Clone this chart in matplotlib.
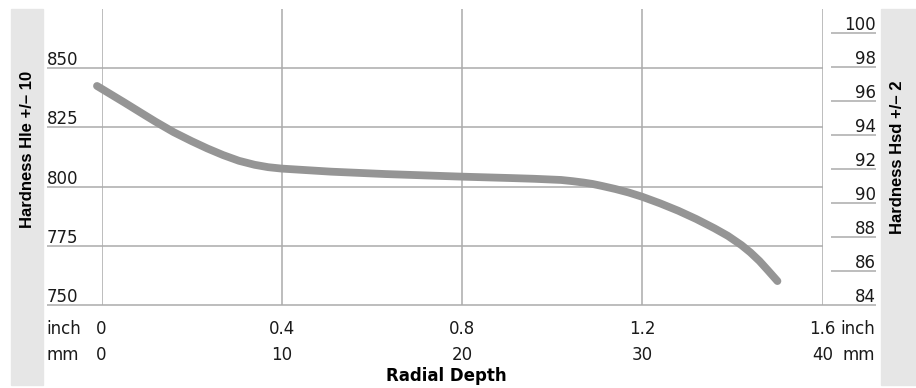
import matplotlib.pyplot as plt
from matplotlib.patches import Rectangle

W, H = 916, 388

# curve (depth in inch, hardness Hle)
depth_inch = [-0.01, 0.05, 0.09, 0.12, 0.16, 0.2, 0.235, 0.27, 0.305, 0.34, 0.37, 0.4,
              0.51, 0.63, 0.8, 0.91, 0.96, 1.02, 1.045, 1.07, 1.09, 1.11, 1.14, 1.17,
              1.2, 1.24, 1.28, 1.32, 1.36, 1.39, 1.42, 1.44, 1.46, 1.48, 1.5]
hardness_hle = [842.5, 835.6, 830.9, 827.4, 823.0, 819.2, 816.1, 813.3, 810.9, 809.2, 808.2, 807.6,
                806.3, 805.3, 804.2, 803.6, 803.3, 802.8, 802.3, 801.7, 801.1, 800.3, 799.0, 797.5,
                795.7, 792.9, 789.8, 786.3, 782.4, 779.2, 775.3, 772.2, 768.6, 764.4, 760.1]

inch_ticks = [0, 0.4, 0.8, 1.2, 1.6]
inch_labels = ['0', '0.4', '0.8', '1.2', '1.6']
mm_labels = ['0', '10', '20', '30', '40']
hle_ticks = [750, 775, 800, 825, 850]
hsd_ticks = [84, 86, 88, 90, 92, 94, 96, 98, 100]

GRID = '#ababab'
BAND = '#e6e6e6'
CURVE = '#959595'
TEXT = '#1a1a1a'

plt.rcParams['font.family'] = 'DejaVu Sans'
plt.rcParams['font.size'] = 12

# plot box in pixels
L, R, T, B = 101.5, 822.5, 9, 305


def fx(px):
    return px / W


def fy(py):
    return 1 - py / H


def ax_x(px):
    # pixel x -> axes fraction
    return (px - L) / (R - L)


def ax_y(py):
    return (B - py) / (B - T)


fig = plt.figure(figsize=(W / 100, H / 100), dpi=100)

# grey side bands
for x0, x1 in [(11, 43), (881, 916)]:
    fig.patches.append(Rectangle((fx(x0), fy(385)), fx(x1) - fx(x0), fy(9) - fy(385),
                                 transform=fig.transFigure, color=BAND, zorder=0))

ax = fig.add_axes([fx(L), fy(B), fx(R) - fx(L), fy(T) - fy(B)])
ax.set_xlim(0, 1.6)
ax.set_ylim(750, 875)
ax.axis('off')

ax2 = ax.twinx()
ax2.set_ylim(84, 84 + (B - T) / 17.0)
ax2.axis('off')

# grid
ax.vlines(inch_ticks, 750, 875, color=GRID, lw=1.1, zorder=1)
ax.hlines(hle_ticks[1:], ax_x(47), 1, transform=ax.get_yaxis_transform(),
          color=GRID, lw=1.1, clip_on=False, zorder=1)
ax.hlines([hle_ticks[0]], ax_x(47), ax_x(876), transform=ax.get_yaxis_transform(),
          color=GRID, lw=1.1, clip_on=False, zorder=1)
ax2.hlines(hsd_ticks[1:], ax_x(831), ax_x(876), transform=ax2.get_yaxis_transform(),
           color=GRID, lw=1.1, clip_on=False, zorder=1)

# curve
ax.plot(depth_inch, hardness_hle, color=CURVE, lw=5.6, solid_capstyle='round',
        solid_joinstyle='round', clip_on=False, zorder=3)

# y labels sitting on their lines
for v in hle_ticks:
    ax.annotate(str(v), xy=(ax_x(47), v), xycoords=ax.get_yaxis_transform(),
                xytext=(0, 3), textcoords='offset pixels', ha='left', va='baseline', color=TEXT)
for v in hsd_ticks:
    ax2.annotate(str(v), xy=(ax_x(876), v), xycoords=ax2.get_yaxis_transform(),
                 xytext=(0, 3), textcoords='offset pixels', ha='right', va='baseline', color=TEXT)

# x labels, two rows
tr = ax.get_xaxis_transform()
for x, a, b in zip(inch_ticks, inch_labels, mm_labels):
    ax.text(x, ax_y(334), a, transform=tr, ha='center', va='baseline', color=TEXT)
    ax.text(x, ax_y(360), b, transform=tr, ha='center', va='baseline', color=TEXT)
ax.text(ax_x(46), ax_y(334), 'inch', transform=ax.transAxes, ha='left', va='baseline', color=TEXT)
ax.text(ax_x(46), ax_y(360), 'mm', transform=ax.transAxes, ha='left', va='baseline', color=TEXT)
ax.text(ax_x(875), ax_y(334), 'inch', transform=ax.transAxes, ha='right', va='baseline', color=TEXT)
ax.text(ax_x(875), ax_y(360), 'mm', transform=ax.transAxes, ha='right', va='baseline', color=TEXT)
ax.text(ax_x(446), ax_y(381), 'Radial Depth', transform=ax.transAxes, ha='center',
        va='baseline', fontweight='bold', color='black')

fig.text(fx(28), fy(149), 'Hardness Hle +/\u2013 10', rotation=90, ha='center', va='center',
         fontweight='bold', family='Liberation Sans', fontsize=12, color='black')
fig.text(fx(898), fy(157), 'Hardness Hsd +/\u2013 2', rotation=90, ha='center', va='center',
         fontweight='bold', family='Liberation Sans', fontsize=12, color='black')

fig.savefig('out.png', dpi=100)
